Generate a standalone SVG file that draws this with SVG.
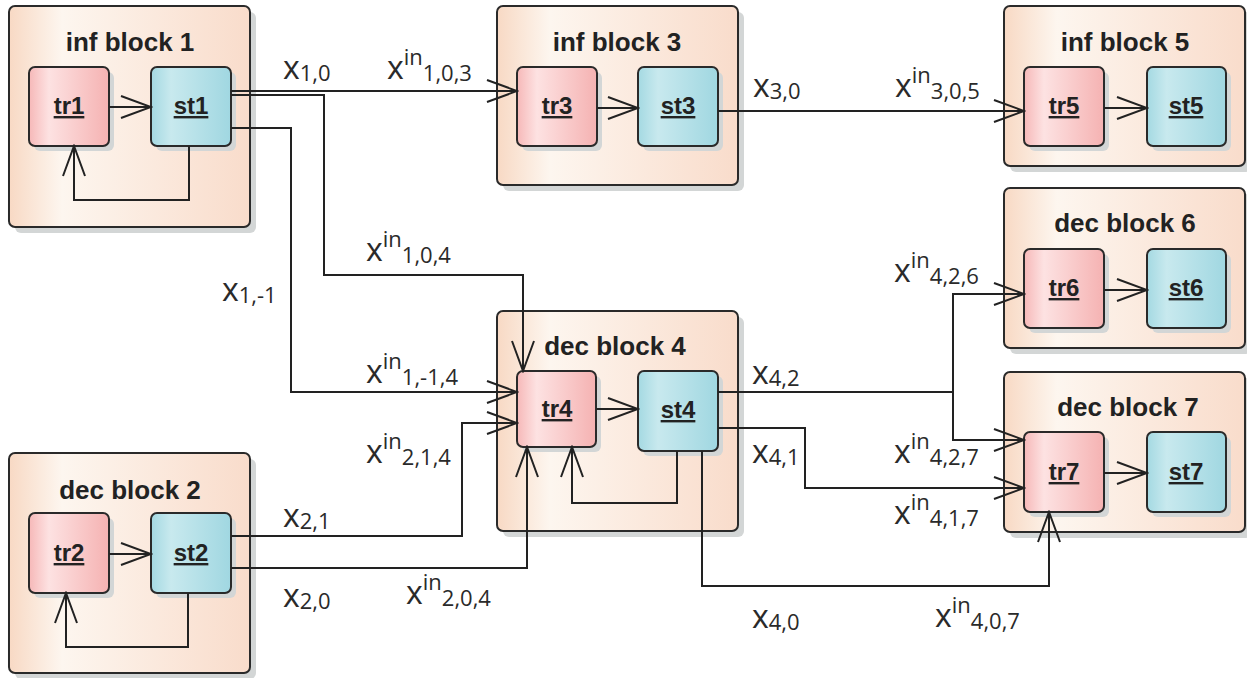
<svg xmlns="http://www.w3.org/2000/svg" width="1247" height="678" viewBox="0 0 1247 678">
<style>
.blk{fill:url(#gBlk);stroke:#2a2a2a;stroke-width:2}
.tr{fill:url(#gTr);stroke:#2a2a2a;stroke-width:2}
.st{fill:url(#gSt);stroke:#2a2a2a;stroke-width:2}
.sh{fill:#d3d6d6}
.title{font-family:"Liberation Sans",Arial,sans-serif;font-weight:bold;font-size:26px;fill:#222;text-anchor:middle}
.nm{font-family:"Liberation Sans",Arial,sans-serif;font-weight:bold;font-size:24px;fill:#222;text-anchor:middle;text-decoration:underline}
.c{fill:none;stroke:#222;stroke-width:2}
.a{marker-end:url(#arr)}
.lab{font-family:"Open Sans","Noto Sans",sans-serif;font-size:32px;fill:#2a2a2a}
.sub{font-size:22px}
</style>
<defs>
<linearGradient id="gBlk" x1="0" y1="0" x2="1" y2="0">
<stop offset="0" stop-color="#f8d9c4"/>
<stop offset="0.22" stop-color="#fdf6ef"/>
<stop offset="1" stop-color="#f9dccb"/>
</linearGradient>
<linearGradient id="gTr" x1="0" y1="0" x2="1" y2="0">
<stop offset="0" stop-color="#f6b8b8"/>
<stop offset="0.25" stop-color="#fde2e2"/>
<stop offset="1" stop-color="#f5b2b2"/>
</linearGradient>
<linearGradient id="gSt" x1="0" y1="0" x2="1" y2="0">
<stop offset="0" stop-color="#a4d9e2"/>
<stop offset="0.25" stop-color="#c8e9ee"/>
<stop offset="1" stop-color="#a0d7e1"/>
</linearGradient>
<marker id="arr" viewBox="-32 -13 34 26" refX="0" refY="0" markerWidth="34" markerHeight="26" markerUnits="userSpaceOnUse" orient="auto">
<path d="M-30,-11 L0,0 L-30,11" fill="none" stroke="#222" stroke-width="2"/>
</marker>
</defs>

<g id="block1">
<rect class="sh" x="15" y="12" width="241" height="221" rx="6"/>
<rect class="blk" x="9" y="6" width="241" height="221" rx="6"/>
<text class="title" x="130" y="51">inf block 1</text>
<rect class="sh" x="34" y="72" width="80" height="79" rx="6"/>
<rect class="tr" x="29" y="67" width="80" height="79" rx="6"/>
<text class="nm" x="69" y="114">tr1</text>
<rect class="sh" x="156" y="72" width="80" height="79" rx="6"/>
<rect class="st" x="151" y="67" width="80" height="79" rx="6"/>
<text class="nm" x="191" y="114">st1</text>
</g>

<g id="block2">
<rect class="sh" x="15" y="459" width="241" height="220" rx="6"/>
<rect class="blk" x="9" y="453" width="241" height="220" rx="6"/>
<text class="title" x="130" y="499">dec block 2</text>
<rect class="sh" x="34" y="518" width="80" height="80" rx="6"/>
<rect class="tr" x="29" y="513" width="80" height="80" rx="6"/>
<text class="nm" x="69" y="561">tr2</text>
<rect class="sh" x="156" y="518" width="80" height="80" rx="6"/>
<rect class="st" x="151" y="513" width="80" height="80" rx="6"/>
<text class="nm" x="191" y="561">st2</text>
</g>

<g id="block3">
<rect class="sh" x="503" y="12" width="241" height="179" rx="6"/>
<rect class="blk" x="497" y="6" width="241" height="179" rx="6"/>
<text class="title" x="617" y="51">inf block 3</text>
<rect class="sh" x="522" y="72" width="80" height="79" rx="6"/>
<rect class="tr" x="517" y="67" width="80" height="79" rx="6"/>
<text class="nm" x="557" y="114">tr3</text>
<rect class="sh" x="643" y="72" width="80" height="79" rx="6"/>
<rect class="st" x="638" y="67" width="80" height="79" rx="6"/>
<text class="nm" x="678" y="114">st3</text>
</g>

<g id="block4">
<rect class="sh" x="503" y="317" width="241" height="220" rx="6"/>
<rect class="blk" x="497" y="311" width="241" height="220" rx="6"/>
<text class="title" x="615" y="355">dec block 4</text>
<rect class="sh" x="522" y="376" width="79" height="76" rx="6"/>
<rect class="tr" x="517" y="371" width="79" height="76" rx="6"/>
<text class="nm" x="557" y="417">tr4</text>
<rect class="sh" x="643" y="376" width="80" height="80" rx="6"/>
<rect class="st" x="638" y="371" width="80" height="80" rx="6"/>
<text class="nm" x="678" y="418">st4</text>
</g>

<g id="block5">
<rect class="sh" x="1010" y="12" width="241" height="160" rx="6"/>
<rect class="blk" x="1004" y="6" width="241" height="160" rx="6"/>
<text class="title" x="1125" y="51">inf block 5</text>
<rect class="sh" x="1029" y="72" width="80" height="79" rx="6"/>
<rect class="tr" x="1024" y="67" width="80" height="79" rx="6"/>
<text class="nm" x="1064" y="114">tr5</text>
<rect class="sh" x="1152" y="72" width="79" height="79" rx="6"/>
<rect class="st" x="1147" y="67" width="79" height="79" rx="6"/>
<text class="nm" x="1186" y="114">st5</text>
</g>

<g id="block6">
<rect class="sh" x="1010" y="194" width="241" height="160" rx="6"/>
<rect class="blk" x="1004" y="188" width="241" height="160" rx="6"/>
<text class="title" x="1125" y="232">dec block 6</text>
<rect class="sh" x="1029" y="254" width="80" height="79" rx="6"/>
<rect class="tr" x="1024" y="249" width="80" height="79" rx="6"/>
<text class="nm" x="1064" y="296">tr6</text>
<rect class="sh" x="1152" y="254" width="79" height="79" rx="6"/>
<rect class="st" x="1147" y="249" width="79" height="79" rx="6"/>
<text class="nm" x="1186" y="296">st6</text>
</g>

<g id="block7">
<rect class="sh" x="1010" y="378" width="241" height="160" rx="6"/>
<rect class="blk" x="1004" y="372" width="241" height="160" rx="6"/>
<text class="title" x="1128" y="416">dec block 7</text>
<rect class="sh" x="1029" y="437" width="80" height="80" rx="6"/>
<rect class="tr" x="1024" y="432" width="80" height="80" rx="6"/>
<text class="nm" x="1064" y="480">tr7</text>
<rect class="sh" x="1152" y="437" width="79" height="80" rx="6"/>
<rect class="st" x="1147" y="432" width="79" height="80" rx="6"/>
<text class="nm" x="1186" y="480">st7</text>
</g>

<g id="connectors">
<path class="c a" d="M109,107 H151"/>
<path class="c a" d="M189,146 V200 H74 V146"/>
<path class="c a" d="M109,554 H151"/>
<path class="c a" d="M188,593 V647 H66 V593"/>
<path class="c a" d="M597,108 H638"/>
<path class="c a" d="M596,409 H638"/>
<path class="c a" d="M677,451 V503 H572 V447"/>
<path class="c a" d="M1104,108 H1147"/>
<path class="c a" d="M1104,290 H1147"/>
<path class="c a" d="M1104,473 H1147"/>

<path class="c a" d="M231,91 H517"/>
<path class="c a" d="M231,95 H324 V275 H523 V371"/>
<path class="c a" d="M231,128 H291 V392 H517"/>
<path class="c a" d="M231,536 H462 V423 H517"/>
<path class="c a" d="M231,568 H527 V447"/>
<path class="c a" d="M718,111 H1024"/>
<path class="c a" d="M718,392 H953 V294 H1024"/>
<path class="c a" d="M953,392 V440 H1024"/>
<path class="c a" d="M718,428 H805 V488 H1024"/>
<path class="c a" d="M702,451 V586 H1049 V512"/>
</g>

<g id="labels">
<text class="lab" x="283" y="79">x<tspan class="sub" dy="2">1,0</tspan></text>
<text class="lab" x="387" y="79">x<tspan class="sub" dy="-14">in</tspan><tspan class="sub" dy="16">1,0,3</tspan></text>
<text class="lab" x="753" y="97">x<tspan class="sub" dy="2">3,0</tspan></text>
<text class="lab" x="895" y="97">x<tspan class="sub" dy="-14">in</tspan><tspan class="sub" dy="16">3,0,5</tspan></text>
<text class="lab" x="366" y="261">x<tspan class="sub" dy="-14">in</tspan><tspan class="sub" dy="16">1,0,4</tspan></text>
<text class="lab" x="222" y="301">x<tspan class="sub" dy="2">1,-1</tspan></text>
<text class="lab" x="366" y="383">x<tspan class="sub" dy="-14">in</tspan><tspan class="sub" dy="16">1,-1,4</tspan></text>
<text class="lab" x="366" y="463">x<tspan class="sub" dy="-14">in</tspan><tspan class="sub" dy="16">2,1,4</tspan></text>
<text class="lab" x="283" y="527">x<tspan class="sub" dy="2">2,1</tspan></text>
<text class="lab" x="283" y="607">x<tspan class="sub" dy="2">2,0</tspan></text>
<text class="lab" x="406" y="604">x<tspan class="sub" dy="-14">in</tspan><tspan class="sub" dy="16">2,0,4</tspan></text>
<text class="lab" x="752" y="384">x<tspan class="sub" dy="2">4,2</tspan></text>
<text class="lab" x="752" y="463">x<tspan class="sub" dy="2">4,1</tspan></text>
<text class="lab" x="894" y="282">x<tspan class="sub" dy="-14">in</tspan><tspan class="sub" dy="16">4,2,6</tspan></text>
<text class="lab" x="894" y="463">x<tspan class="sub" dy="-14">in</tspan><tspan class="sub" dy="16">4,2,7</tspan></text>
<text class="lab" x="894" y="524">x<tspan class="sub" dy="-14">in</tspan><tspan class="sub" dy="16">4,1,7</tspan></text>
<text class="lab" x="752" y="628">x<tspan class="sub" dy="2">4,0</tspan></text>
<text class="lab" x="935" y="627">x<tspan class="sub" dy="-14">in</tspan><tspan class="sub" dy="16">4,0,7</tspan></text>
</g>
</svg>
